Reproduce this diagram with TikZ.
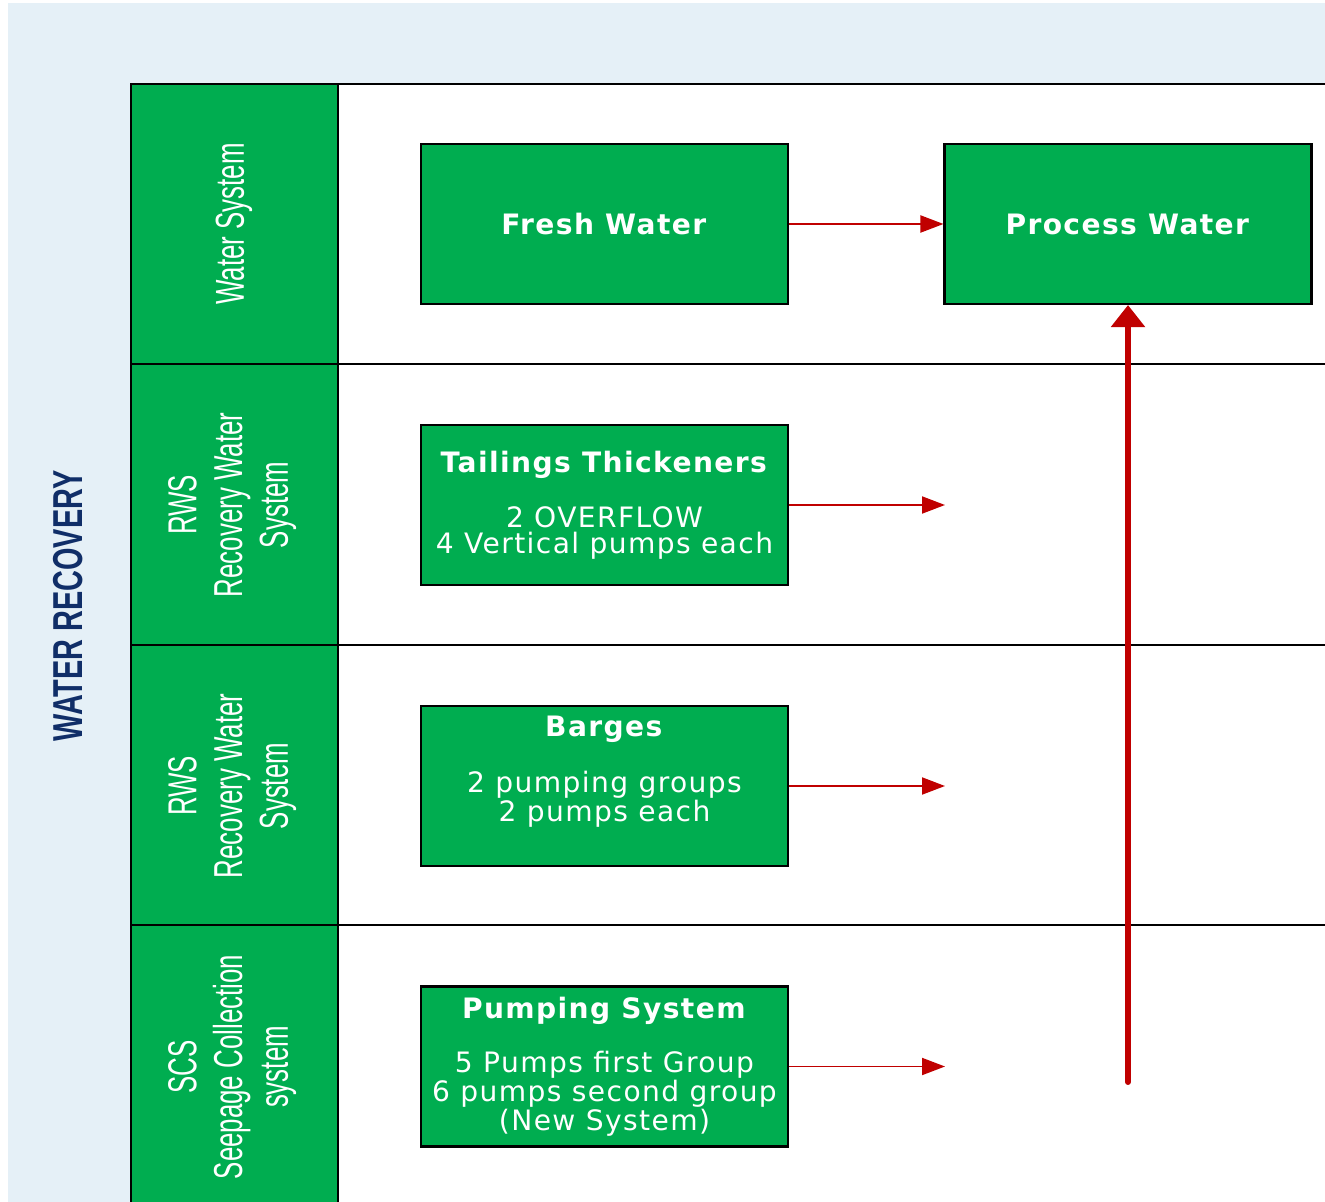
\documentclass[tikz,border=0pt]{standalone}
\usepackage{fontspec}
\usepackage{graphicx}
\setmainfont{DejaVu Sans}[LetterSpace=5]
\newfontfamily\lanefont{Liberation Sans}
\usetikzlibrary{arrows.meta}
\definecolor{lanegreen}{RGB}{0,173,80}
\definecolor{paleblue}{RGB}{229,240,247}
\definecolor{flowred}{RGB}{192,0,0}
\definecolor{navy}{RGB}{16,46,104}

\begin{document}
\begin{tikzpicture}[x=0.02cm,y=-0.02cm,
    stagebox/.style={draw=black,line width=1.2pt,fill=lanegreen,text=white,minimum width=7.34cm,minimum height=3.2cm,align=center,inner sep=0pt,font=\fontsize{16}{15}\selectfont},
    lanelabel/.style={rotate=90,text=white,font=\lanefont\fontsize{23}{26}\selectfont},
    flow/.style={draw=flowred,line width=1.1pt,-{Triangle[length=0.46cm,width=0.34cm]}},
    feed/.style={draw=flowred,line width=3.4pt,line cap=round,-{Triangle[length=0.44cm,width=0.66cm]}}]
  \useasboundingbox (0,0) rectangle (1325,1202);
  \fill[paleblue] (8,3) rectangle (1325,1202);
  \fill[white] (338,84) rectangle (1325,1202);
  \fill[lanegreen] (131,84) rectangle (338,1202);
  \draw[line width=0.6pt] (130,84) -- (1325,84);
  \foreach \y in {364,645,925}
    \draw[line width=1.2pt] (131,\y) -- (1325,\y);
  \draw[line width=1.5pt] (131,84) -- (131,1202);
  \draw[line width=1.5pt] (338,84) -- (338,1202);

  \node[rotate=90,text=navy,font=\lanefont\bfseries\fontsize{23.8}{26}\selectfont] (title) at (68,606) {\scalebox{0.69}[1]{WATER RECOVERY}};
  \node[lanelabel] (lanewater) at (234,224) {\scalebox{0.64}[1]{Water System}};
  \node[lanelabel] (lanetailings) at (233,505) {\scalebox{0.64}[1]{\begin{tabular}{@{}c@{}}RWS\\Recovery Water\\System\end{tabular}}};
  \node[lanelabel] (lanebarges) at (233,786) {\scalebox{0.64}[1]{\begin{tabular}{@{}c@{}}RWS\\Recovery Water\\System\end{tabular}}};
  \node[lanelabel] (laneseepage) at (233,1067) {\scalebox{0.64}[1]{\begin{tabular}{@{}c@{}}SCS\\Seepage Collection\\system\end{tabular}}};

  \node[stagebox] (fresh) at (604.5,224) {\textbf{Fresh Water}};
  \node[stagebox] (process) at (1128,224) {\textbf{Process Water}};
  \node[stagebox] (tailings) at (604.5,505) {\textbf{Tailings Thickeners}\\[15pt]2 OVERFLOW\\4 Vertical pumps each};
  \node[stagebox] (barges) at (604.5,786) {\textbf{Barges}\\[15pt]2 pumping groups\\2 pumps each\\\strut};
  \node[stagebox] (pumping) at (604.5,1066.5) {\textbf{Pumping System}\\[14pt]5 Pumps first Group\\6 pumps second group\\(New System)};

  \coordinate (tailingsout) at (945,505);
  \coordinate (bargesout) at (945,786);
  \coordinate (pumpingout) at (945,1066.5);
  \coordinate (feedstart) at (1128,1082);

  \draw[flow] (fresh) -- (process);
  \draw[flow] (tailings.east) -- (tailingsout);
  \draw[flow] (barges.east) -- (bargesout);
  \draw[flow] (pumping.east) -- (pumpingout);
  \draw[feed] (feedstart) -- (process.south);
\end{tikzpicture}
\end{document}
